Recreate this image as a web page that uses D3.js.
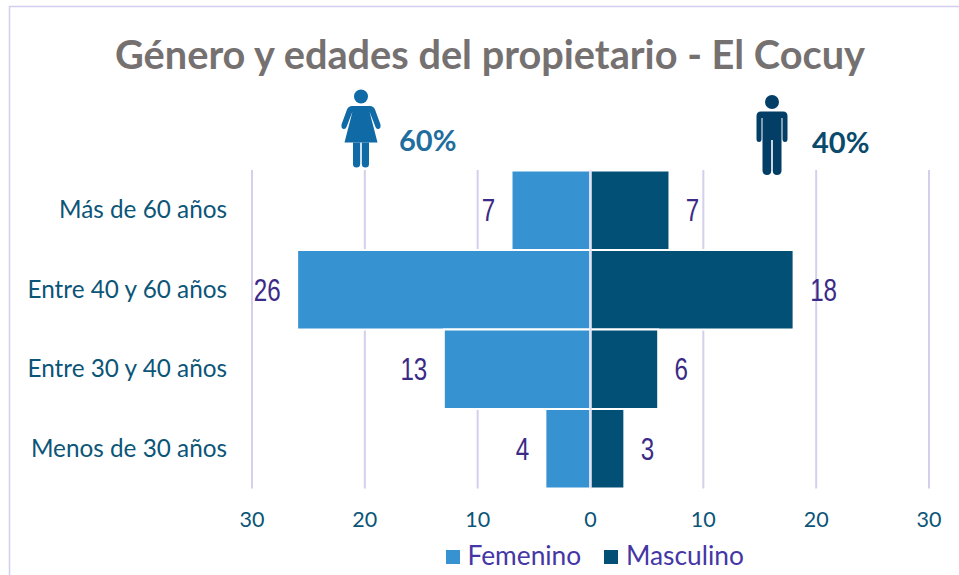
<!DOCTYPE html>
<html><head><meta charset="utf-8">
<script src="https://cdn.jsdelivr.net/npm/d3@7"></script>
<style>html,body{margin:0;padding:0;background:#fff}svg{display:block}</style>
</head><body><svg id="c" width="959" height="575"></svg>
<script>
const categories = ["Más de 60 años","Entre 40 y 60 años","Entre 30 y 40 años","Menos de 30 años"];
const femenino = [7,26,13,4];
const masculino = [7,18,6,3];
const ticks = [-30,-20,-10,0,10,20,30];
const titleText = "Género y edades del propietario - El Cocuy";
const seriesNames = ["Femenino","Masculino"];
const shares = ["60%","40%"];

const svg = d3.select("#c");
const font = "Lato, 'Open Sans', sans-serif";
const x = d3.scaleLinear().domain([-30,30]).range([252,929]);
const y = d3.scaleBand().domain(categories).range([170.5,488.5]);

// frame
svg.append("path").attr("d","M9.5,575V6.5H959").attr("fill","none").attr("stroke","#d3cdf2").attr("stroke-width",1.5);

// title
svg.append("text").attr("x",490).attr("y",69).attr("text-anchor","middle")
  .attr("font-family",font).attr("font-weight",700).attr("font-size",41)
  .attr("textLength",750).attr("lengthAdjust","spacingAndGlyphs").attr("fill","#767171").text(titleText);

// grid
svg.append("g").selectAll("line").data(ticks.filter(d=>d!==0)).join("line")
  .attr("x1",d=>x(d)).attr("x2",d=>x(d)).attr("y1",170).attr("y2",488.5)
  .attr("stroke","#d5cfee").attr("stroke-width",2);

// bars
const g = svg.append("g").attr("stroke","#fff").attr("stroke-width",2);
g.selectAll(".f").data(categories).join("rect").attr("class","f")
  .attr("x",(d,i)=>x(-femenino[i])).attr("y",d=>y(d)).attr("height",y.bandwidth())
  .attr("width",(d,i)=>x(0)-x(-femenino[i])).attr("fill","#3792d1");
g.selectAll(".m").data(categories).join("rect").attr("class","m")
  .attr("x",x(0)).attr("y",d=>y(d)).attr("height",y.bandwidth())
  .attr("width",(d,i)=>x(masculino[i])-x(0)).attr("fill","#035076");
svg.append("line").attr("x1",x(0)).attr("x2",x(0)).attr("y1",170).attr("y2",488.5)
  .attr("stroke","#e4e0f5").attr("stroke-width",2);

// category labels
svg.append("g").selectAll("text").data(categories).join("text")
  .attr("x",227).attr("y",d=>y(d)+y.bandwidth()/2+8).attr("text-anchor","end")
  .attr("font-family",font).attr("font-size",24.3).attr("fill","#0b5578").text(d=>d);

// value labels (narrow face: horizontally compressed)
const lab = "'Liberation Sans',sans-serif";
function vals(arr,sign){
  svg.append("g").selectAll("text").data(categories).join("text")
    .attr("transform",(d,i)=>`translate(${x(sign*arr[i])+sign*(16+7*String(arr[i]).length)},${y(d)+y.bandwidth()/2+11}) scale(0.78,1)`)
    .attr("text-anchor","middle").attr("font-family",lab).attr("font-size",31)
    .attr("fill","#3b2a86").text((d,i)=>arr[i]);
}
vals(femenino,-1);
vals(masculino,1);

// x axis tick labels
svg.append("g").selectAll("text").data(ticks).join("text")
  .attr("x",d=>x(d)).attr("y",527).attr("text-anchor","middle")
  .attr("font-family",font).attr("font-size",21.5).attr("fill","#0b5578").text(d=>Math.abs(d));

// legend
const lg = svg.append("g");
lg.append("rect").attr("x",446).attr("y",550).attr("width",14).attr("height",14).attr("fill","#3792d1");
lg.append("text").attr("x",467.5).attr("y",565).attr("font-family",font).attr("font-size",26.3).attr("fill","#4437a5").text(seriesNames[0]);
lg.append("rect").attr("x",604).attr("y",550).attr("width",14).attr("height",14).attr("fill","#035076");
lg.append("text").attr("x",626).attr("y",565).attr("font-family",font).attr("font-size",26.3).attr("fill","#4437a5").text(seriesNames[1]);

// pictograms
function woman(cx,top,c){
  const a = svg.append("g").attr("transform",`translate(${cx},${top})`).attr("fill",c);
  a.append("circle").attr("cx",0).attr("cy",7).attr("r",7);
  a.append("path").attr("d","M-9,16.5H9Q12.5,16.5 14,20L19.5,35Q20,39 17.5,39.5Q15.5,40 14.5,37.5L8.5,22L16.5,53H-16.5L-8.5,22L-14.5,37.5Q-15.5,40 -17.5,39.5Q-20,39 -19.5,35L-14,20Q-12.5,16.5 -9,16.5Z");
  a.append("path").attr("d","M-8,53H-0.8V74.5Q-1,78 -4.5,78Q-8,78 -8,74.5ZM0.8,53H8V74.5Q8,78 4.5,78Q1,78 0.8,74.5Z");
}
function man(cx,top,c){
  const a = svg.append("g").attr("transform",`translate(${cx},${top})`).attr("fill",c);
  a.append("circle").attr("cx",0).attr("cy",7).attr("r",7);
  // shoulders, torso, arms, legs as one outline
  a.append("path").attr("d","M-11,16.5H11Q15.5,16.5 15.5,21V44Q15.5,47 13,47Q10.5,47 10.5,44V23H9.5V76Q9,80 5,80Q1,80 0.8,76V45H-0.8V76Q-1,80 -5,80Q-9,80 -9.5,76V23H-10.5V44Q-10.5,47 -13,47Q-15.5,47 -15.5,44V21Q-15.5,16.5 -11,16.5Z");
}
woman(361,89.5,"#0f6aa6");
man(772,95,"#033e66");

svg.append("text").attr("x",399).attr("y",151).attr("font-family",font).attr("font-weight",700).attr("font-size",29).attr("fill","#1f6e9f").text(shares[0]);
svg.append("text").attr("x",812).attr("y",153).attr("font-family",font).attr("font-weight",700).attr("font-size",29).attr("fill","#0a4a6c").text(shares[1]);
</script></body></html>
